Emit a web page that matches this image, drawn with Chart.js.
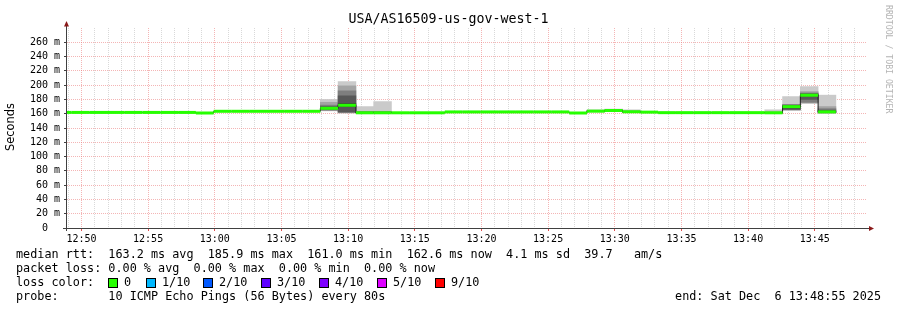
<!DOCTYPE html>
<html lang="en">
<head>
<meta charset="UTF-8">
<title>USA/AS16509-us-gov-west-1</title>
<script src="https://cdn.jsdelivr.net/npm/chart.js@4/dist/chart.umd.min.js"></script>
<style>
  html, body { margin: 0; padding: 0; background: #fff; }
  canvas { display: block; }
</style>
</head>
<body>
<canvas id="canvas" width="897" height="310"></canvas>
<script>
// graph window and probe step (seconds)
var graphTitle = 'USA/AS16509-us-gov-west-1';
var graphStart = '12:48:55';
var graphEnd = '13:48:55';
var pingStep = 80;

// one entry per rrd sample (time = end of the 80 s interval)
var sampleTimes = [
    '12:49:15', '12:50:35', '12:51:55', '12:53:15', '12:54:35', '12:55:55', '12:57:15', '12:58:35',
    '12:59:55', '13:01:15', '13:02:35', '13:03:55', '13:05:15', '13:06:35', '13:07:55', '13:09:15',
    '13:10:35', '13:11:55', '13:13:15', '13:14:35', '13:15:55', '13:17:15', '13:18:35', '13:19:55',
    '13:21:15', '13:22:35', '13:23:55', '13:25:15', '13:26:35', '13:27:55', '13:29:15', '13:30:35',
    '13:31:55', '13:33:15', '13:34:35', '13:35:55', '13:37:15', '13:38:35', '13:39:55', '13:41:15',
    '13:42:35', '13:43:55', '13:45:15', '13:46:35'
];
// median rtt in ms
var medianRtt = [
    161.8, 161.8, 161.8, 161.8, 161.8, 161.8, 161.8, 161.8,
    161.0, 163.4, 163.4, 163.4, 163.4, 163.4, 163.4, 167.6,
    171.8, 161.3, 161.3, 161.3, 161.3, 161.3, 162.5, 162.5,
    162.5, 162.5, 162.5, 162.5, 162.5, 161.0, 163.6, 164.5,
    162.7, 162.2, 161.5, 161.5, 161.5, 161.5, 161.5, 161.5,
    161.3, 169.9, 185.9, 162.6
];
// lost pings out of 10
var packetLoss = [
    0, 0, 0, 0, 0, 0, 0, 0, 0, 0, 0, 0, 0, 0, 0, 0, 0, 0, 0, 0, 0, 0,
    0, 0, 0, 0, 0, 0, 0, 0, 0, 0, 0, 0, 0, 0, 0, 0, 0, 0, 0, 0, 0, 0
];

// samples where the ping spread shows as smoke, sorted pings in ms
var smokeTimes = ['13:09:15', '13:10:35', '13:11:55', '13:13:15', '13:29:15', '13:30:35',
                  '13:31:55', '13:42:35', '13:43:55', '13:45:15', '13:46:35'];
var ping1  = [164.0, 160.8, 161.0, 161.0, 162.5, 163.0, 161.5, 160.5, 164.8, 174.5, 160.8];
var ping2  = [164.5, 161.3, 161.2, 161.2, 162.8, 163.5, 161.8, 160.8, 165.2, 175.0, 161.0];
var ping3  = [165.0, 161.8, 161.4, 161.4, 163.0, 164.0, 162.0, 161.0, 165.5, 176.0, 161.3];
var ping4  = [166.0, 162.5, 161.6, 161.6, 163.3, 164.3, 162.3, 161.2, 166.0, 180.0, 161.8];
var ping5  = [167.3, 170.0, 161.8, 161.8, 163.5, 164.5, 162.6, 161.3, 168.0, 185.0, 162.0];
var ping6  = [168.0, 174.0, 162.0, 162.0, 163.7, 164.7, 162.8, 161.4, 171.0, 187.0, 163.2];
var ping7  = [170.0, 185.0, 162.3, 162.3, 164.0, 165.0, 163.2, 161.6, 172.0, 188.0, 165.0];
var ping8  = [172.0, 192.0, 162.6, 162.6, 164.2, 165.3, 163.6, 162.0, 172.5, 189.0, 167.0];
var ping9  = [176.0, 199.0, 163.0, 163.0, 164.5, 165.6, 164.0, 162.5, 173.0, 191.0, 170.0];
var ping10 = [180.0, 205.0, 170.0, 177.0, 165.5, 166.5, 165.5, 165.5, 184.0, 198.0, 186.0];

var lossLabels = ['0', '1/10', '2/10', '3/10', '4/10', '5/10', '9/10'];
var lossColors = ['#26ff00', '#00b8ff', '#0059ff', '#5e00ff', '#7e00ff', '#dd00ff', '#ff0000'];
var smokeColors = ['#cacaca', '#a4a4a4', '#7e7e7e', '#585858', '#323232'];

var statsLine = 'median rtt:  163.2 ms avg  185.9 ms max  161.0 ms min  162.6 ms now  4.1 ms sd  39.7   am/s';
var lossLine = 'packet loss: 0.00 % avg  0.00 % max  0.00 % min  0.00 % now';
var probeLine = 'probe:       10 ICMP Echo Pings (56 Bytes) every 80s';
var endLine = 'end: Sat Dec  6 13:48:55 2025';

function clockToSec(hms) {
    var p = hms.split(':');
    return (+p[0]) * 3600 + (+p[1]) * 60 + (+p[2]);
}
var startSec = clockToSec(graphStart);
var spanSec = clockToSec(graphEnd) - startSec;
function rel(hms) { return clockToSec(hms) - startSec; }
function minuteOf(v) { return Math.round((startSec + v) / 60); }
function isMajorX(v) { return minuteOf(v) % 5 === 0; }
function fmtClock(v) {
    var m = minuteOf(v);
    var hh = Math.floor(m / 60) % 24, mm = m % 60;
    return (hh < 10 ? '0' : '') + hh + ':' + (mm < 10 ? '0' : '') + mm;
}

var pings = [ping1, ping2, ping3, ping4, ping5, ping6, ping7, ping8, ping9, ping10];

function stepPx(ctx) {
    var s = ctx.chart.scales.x;
    return s.getPixelForValue(pingStep) - s.getPixelForValue(0);
}

var datasets = [];

// median coloured by loss, one flat stroke per interval
datasets.push({
    type: 'line',
    order: 0,
    showLine: false,
    clip: 0,
    data: sampleTimes.map(function (t, i) { return { x: rel(t) - pingStep / 2, y: medianRtt[i] }; }),
    pointStyle: 'line',
    pointRadius: function (ctx) { return stepPx(ctx) / 2; },
    pointBorderWidth: 3,
    pointBorderColor: function (ctx) { return lossColors[packetLoss[ctx.dataIndex] || 0]; },
    pointBackgroundColor: lossColors[0]
});

// dark median step line underneath
datasets.push({
    type: 'line',
    order: 1,
    clip: 0,
    data: sampleTimes.map(function (t, i) { return { x: rel(t), y: medianRtt[i] }; }),
    stepped: 'after',
    borderColor: '#202020',
    borderWidth: 1,
    pointRadius: 0,
    fill: false
});

// smoke: band k spans ping k .. ping (11-k)
for (var k = 0; k < 5; k++) {
    (function (k) {
        datasets.push({
            type: 'bar',
            order: 6 - k,
            clip: 0,
            grouped: false,
            borderWidth: 0,
            backgroundColor: smokeColors[k],
            barThickness: stepPx,
            data: smokeTimes.map(function (t, j) {
                return { x: rel(t) - pingStep / 2, y: [pings[k][j], pings[9 - k][j]] };
            })
        });
    })(k);
}

var mono = 'DejaVu Sans Mono';

var decorPlugin = {
    id: 'decor',
    afterDraw: function (chart) {
        var ctx = chart.ctx;
        var a = chart.chartArea;
        ctx.save();

        // title
        ctx.fillStyle = '#000';
        ctx.font = '13.3px "' + mono + '"';
        ctx.textAlign = 'center';
        ctx.textBaseline = 'middle';
        ctx.fillText(graphTitle, chart.width / 2, 19.5);

        // y axis title
        ctx.save();
        ctx.translate(11.5, 127);
        ctx.rotate(-Math.PI / 2);
        ctx.font = '11.4px "DejaVu Sans"';
        ctx.fillText('Seconds', 0, 0);
        ctx.restore();

        // watermark
        ctx.save();
        ctx.translate(885.5, 5);
        ctx.rotate(Math.PI / 2);
        ctx.font = '8.2px "' + mono + '"';
        ctx.fillStyle = '#b4b4b4';
        ctx.textAlign = 'left';
        ctx.textBaseline = 'alphabetic';
        ctx.fillText('RRDTOOL / TOBI OETIKER', 0, 0);
        ctx.restore();

        // axes
        ctx.strokeStyle = '#404040';
        ctx.lineWidth = 1;
        ctx.beginPath();
        ctx.moveTo(a.left - 0.5, a.bottom + 3);
        ctx.lineTo(a.left - 0.5, a.top - 2);
        ctx.moveTo(a.left - 4, a.bottom + 0.5);
        ctx.lineTo(a.right + 2, a.bottom + 0.5);
        ctx.stroke();
        ctx.fillStyle = '#8b1a1a';
        ctx.beginPath();
        ctx.moveTo(a.left - 3, a.top - 1.5);
        ctx.lineTo(a.left + 2, a.top - 1.5);
        ctx.lineTo(a.left - 0.5, a.top - 7);
        ctx.closePath();
        ctx.fill();
        ctx.beginPath();
        ctx.moveTo(a.right + 2, a.bottom - 2);
        ctx.lineTo(a.right + 2, a.bottom + 3);
        ctx.lineTo(a.right + 7, a.bottom + 0.5);
        ctx.closePath();
        ctx.fill();

        // legend
        ctx.fillStyle = '#000';
        ctx.font = '11.8px "' + mono + '"';
        ctx.textAlign = 'left';
        ctx.textBaseline = 'middle';
        ctx.fillText(statsLine, 16, 254.5);
        ctx.fillText(lossLine, 16, 268.5);
        ctx.fillText('loss color:', 16, 282.5);
        ctx.fillText(probeLine, 16, 296.5);
        ctx.textAlign = 'right';
        ctx.fillText(endLine, 881, 296.5);
        ctx.textAlign = 'left';
        var sx = [108, 146, 203, 261, 319, 377, 435];
        for (var i = 0; i < lossLabels.length; i++) {
            ctx.fillStyle = lossColors[i];
            ctx.fillRect(sx[i], 278, 10, 10);
            ctx.strokeStyle = '#000';
            ctx.strokeRect(sx[i] + 0.5, 278.5, 9, 9);
            ctx.fillStyle = '#000';
            ctx.fillText(lossLabels[i], sx[i] + 16, 282.5);
        }
        ctx.restore();
    }
};

var majorGrid = 'rgba(235, 120, 120, 0.55)';
var minorGrid = 'rgba(180, 180, 180, 0.5)';

new Chart(document.getElementById('canvas').getContext('2d'), {
    type: 'bar',
    data: { datasets: datasets },
    plugins: [decorPlugin],
    options: {
        responsive: false,
        animation: false,
        events: [],
        layout: { padding: { top: 28, right: 30, left: 0, bottom: 0 } },
        plugins: {
            legend: { display: false },
            title: { display: false },
            tooltip: { enabled: false }
        },
        scales: {
            x: {
                type: 'linear',
                offset: false,
                min: 0,
                max: spanSec,
                afterFit: function (scale) { scale.height = 82; },
                afterBuildTicks: function (scale) {
                    var ticks = [];
                    for (var t = (60 - startSec % 60) % 60; t <= spanSec; t += 60) ticks.push({ value: t });
                    scale.ticks = ticks;
                },
                border: { display: false, dash: [1, 1] },
                grid: {
                    offset: false,
                    lineWidth: 1,
                    tickLength: 3,
                    color: function (c) { return c.tick && isMajorX(c.tick.value) ? majorGrid : minorGrid; },
                    tickColor: function (c) { return c.tick && isMajorX(c.tick.value) ? '#e05050' : 'rgba(0,0,0,0)'; },
                    tickBorderDash: []
                },
                ticks: {
                    autoSkip: false,
                    maxRotation: 0,
                    minRotation: 0,
                    padding: 2,
                    color: '#000',
                    font: { family: mono, size: 10 },
                    callback: function (v) { return isMajorX(v) ? fmtClock(v) : ''; }
                }
            },
            y: {
                type: 'linear',
                min: 0,
                max: 280,
                afterFit: function (scale) { scale.width = 67; },
                afterBuildTicks: function (scale) {
                    var ticks = [];
                    for (var v = 0; v <= 270; v += 10) ticks.push({ value: v });
                    scale.ticks = ticks;
                },
                border: { display: false, dash: [1, 1] },
                grid: {
                    lineWidth: 1,
                    tickLength: 3,
                    color: function (c) { return c.tick && c.tick.value % 20 === 0 ? majorGrid : minorGrid; },
                    tickColor: function (c) { return c.tick && c.tick.value % 20 === 0 ? '#404040' : '#a0a0a0'; },
                    tickBorderDash: []
                },
                ticks: {
                    padding: 4,
                    color: '#000',
                    font: { family: mono, size: 10 },
                    callback: function (v) {
                        if (v % 20 !== 0) return '';
                        return v === 0 ? '0  ' : v + ' m';
                    }
                }
            }
        }
    }
});
</script>
</body>
</html>
